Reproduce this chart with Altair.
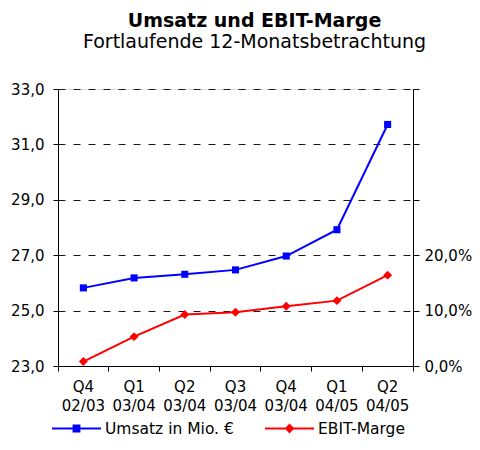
import altair as alt
import pandas as pd

quarters = ["Q4 02/03", "Q1 03/04", "Q2 03/04", "Q3 03/04", "Q4 03/04", "Q1 04/05", "Q2 04/05"]
umsatz = [25.82, 26.18, 26.31, 26.47, 26.97, 27.92, 31.72]
ebit_marge = [0.8, 5.3, 9.3, 9.7, 10.8, 11.8, 16.4]
series_names = ["Umsatz in Mio. €", "EBIT-Marge"]
series_colors = ["#0000FF", "#FF0000"]
left_ticks = [23, 25, 27, 29, 31, 33]
right_ticks = [0, 10, 20, 30, 40, 50]

FONT = "DejaVu Sans"
W, H = 355, 277

df_u = pd.DataFrame({"quarter": quarters, "value": umsatz, "series": series_names[0]})
df_e = pd.DataFrame({"quarter": quarters, "value": ebit_marge, "series": series_names[1]})

x_enc = alt.X(
    "quarter:N",
    sort=quarters,
    scale=alt.Scale(type="band", paddingInner=0, paddingOuter=0),
    axis=alt.Axis(
        title=None,
        labelAngle=0,
        labelExpr="isValid(datum.value) ? split(datum.value, ' ') : ''",
        labelLineHeight=19,
        labelFontSize=15,
        labelFont=FONT,
        labelColor="black",
        labelPadding=8,
        tickSize=5,
        tickColor="black",
        domainColor="black",
        bandPosition=1,
        tickExtra=True,
    ),
)

y_left = alt.Y(
    "value:Q",
    scale=alt.Scale(domain=[23, 33], nice=False, zero=False),
    axis=alt.Axis(
        title=None,
        values=left_ticks,
        labelExpr="replace(format(datum.value, '.1f'), '.', ',')",
        labelFontSize=15,
        labelFont=FONT,
        labelColor="black",
        labelPadding=9,
        tickSize=5,
        tickColor="black",
        domainColor="black",
        grid=True,
        gridColor="#1a1a1a",
        gridDash=[7, 8],
        gridWidth=1,
    ),
)

y_right = alt.Y(
    "value:Q",
    scale=alt.Scale(domain=[0, 50], nice=False, zero=False),
    axis=alt.Axis(
        title=None,
        orient="right",
        values=right_ticks,
        labelExpr="datum.value < 25 ? replace(format(datum.value, '.1f'), '.', ',') + '%' : ''",
        labelFontSize=15,
        labelFont=FONT,
        labelColor="black",
        labelPadding=5,
        tickSize=6,
        tickColor="black",
        domainColor="black",
        grid=False,
    ),
)

line_u = alt.Chart(df_u).mark_line(color=series_colors[0], strokeWidth=2).encode(x=x_enc, y=y_left)
pts_u = alt.Chart(df_u).mark_point(shape="square", filled=True, opacity=1, size=50, color=series_colors[0]).encode(x=x_enc, y=y_left)

path_u = "M-1,-0.045L1,-0.045L1,0.045L-1,0.045Z M-0.16,-0.16L0.16,-0.16L0.16,0.16L-0.16,0.16Z"
path_e = "M-1,-0.045L1,-0.045L1,0.045L-1,0.045Z M0,-0.2L0.2,0L0,0.2L-0.2,0Z"

legend_cfg = alt.Legend(
    title=None,
    orient="none",
    direction="horizontal",
    legendX=-6,
    legendY=315,
    symbolSize=2401,
    symbolStrokeWidth=0,
    labelFont=FONT,
    labelFontSize=15.5,
    labelColor="black",
    labelOffset=4,
    columnPadding=31,
)

legend_layer = (
    alt.Chart(df_u)
    .transform_filter("false")
    .mark_point(filled=True, opacity=1)
    .encode(
        x=x_enc,
        y=y_left,
        color=alt.Color("series:N", scale=alt.Scale(domain=series_names, range=series_colors), legend=legend_cfg),
        shape=alt.Shape("series:N", scale=alt.Scale(domain=series_names, range=[path_u, path_e]), legend=legend_cfg),
    )
)

line_e = alt.Chart(df_e).mark_line(color=series_colors[1], strokeWidth=2).encode(x=x_enc, y=y_right)
pts_e = alt.Chart(df_e).mark_point(shape="diamond", filled=True, opacity=1, size=80, color=series_colors[1]).encode(x=x_enc, y=y_right)

chart = (
    alt.layer(alt.layer(line_u, pts_u, legend_layer), alt.layer(line_e, pts_e))
    .resolve_scale(y="independent")
    .properties(
        width=W,
        height=H,
        autosize=alt.AutoSizeParams(type="none"),
        padding={"left": 50, "top": 81, "right": 59, "bottom": 72},
        title=alt.TitleParams(
            text="Umsatz und EBIT-Marge",
            subtitle="Fortlaufende 12-Monatsbetrachtung",
            font=FONT,
            fontSize=19,
            fontWeight="bold",
            color="black",
            subtitleFont=FONT,
            subtitleFontSize=19,
            subtitleColor="black",
            subtitlePadding=2,
            anchor="middle",
            dx=19,
            offset=30,
        ),
    )
    .configure_view(stroke=None)
    .configure(background="white")
)

chart.save("out.html", embed_options={"renderer": "svg", "actions": False})
